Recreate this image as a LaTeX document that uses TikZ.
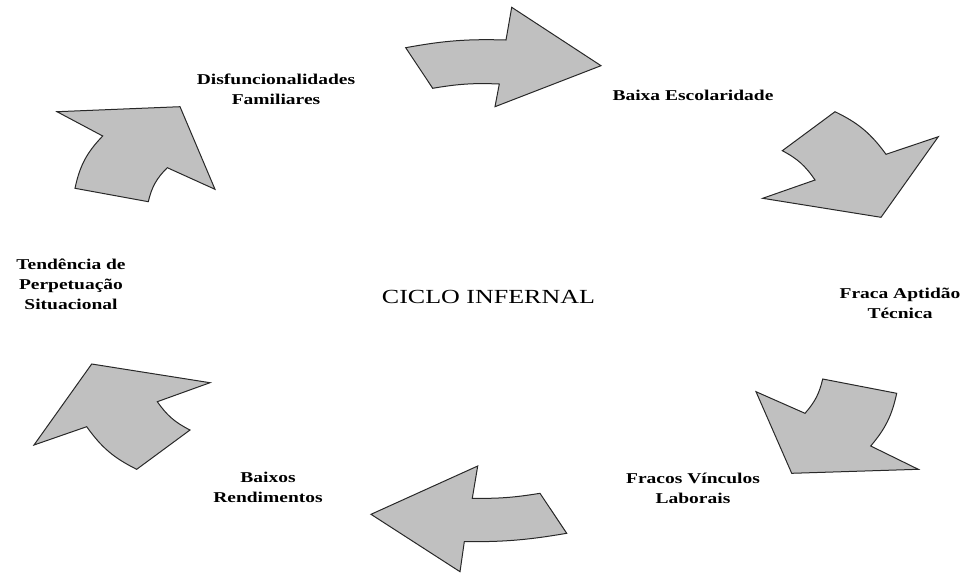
\documentclass[tikz,border=0pt]{standalone}
\usepackage{fontspec}
\setmainfont{Liberation Serif}[FakeStretch=1.3]
\definecolor{arrowgray}{RGB}{192,192,192}
\definecolor{arrowedge}{RGB}{40,40,40}
\tikzset{
  cyclearrow/.style={fill=arrowgray, draw=arrowedge, line width=1pt, line join=miter},
  stagetext/.style={font=\bfseries\fontsize{15}{20}\selectfont, align=center, inner sep=0pt},
  titletext/.style={font=\fontsize{20}{24}\selectfont, inner sep=0pt}
}
\begin{document}
\begin{tikzpicture}[x=1pt, y=-1pt]
\useasboundingbox (0,0) rectangle (965,573);

% the five curved block arrows of the cycle
\draw[cyclearrow] (405.7,47.7) to[bend left=6] (506,40) -- (511.7,7.3) -- (601,65.7)
  -- (495,106.7) -- (499.3,84) to[bend right=6] (432.7,88.3) -- cycle;
\draw[cyclearrow] (835,111.7) to[bend left=14] (886,154.3) -- (938.3,136.7) -- (881,217.3)
  -- (762.7,198.3) -- (815,180) to[bend right=14] (782.3,150.7) -- cycle;
\draw[cyclearrow] (896.7,393.3) to[bend left=14] (870.7,446) -- (918.3,469.3) -- (791.7,473.3)
  -- (756,391.7) -- (805,413.3) to[bend right=14] (822.7,379) -- cycle;
\draw[cyclearrow] (566.7,533.3) to[bend left=5] (464.3,541.7) -- (460,571.7) -- (371,514.3)
  -- (477.7,466) -- (472.3,498.3) to[bend right=5] (540,493.3) -- cycle;
\draw[cyclearrow] (136.7,469.3) to[bend left=14] (86.7,426.7) -- (34,445) -- (91.7,364)
  -- (210,382.7) -- (157.3,401.7) to[bend right=14] (190,430) -- cycle;
\draw[cyclearrow] (75,188.3) to[bend left=16] (102.7,136) -- (57,111.7) -- (180,106.7)
  -- (215,189.3) -- (167.3,167.7) to[bend right=16] (148.3,201.7) -- cycle;

% stage labels
\node[stagetext] (disf) at (276,89) {Disfuncionalidades\\Familiares};
\node[stagetext] (esc) at (693,95) {Baixa Escolaridade};
\node[stagetext] (apt) at (900,303) {Fraca Aptidão\\Técnica};
\node[stagetext] (vinc) at (693,488) {Fracos Vínculos\\Laborais};
\node[stagetext] (rend) at (268,487) {Baixos\\Rendimentos};
\node[stagetext] (tend) at (71,284) {Tendência de\\Perpetuação\\Situacional};
\node[titletext] (ciclo) at (488.5,296.5) {CICLO INFERNAL};
\end{tikzpicture}
\end{document}
